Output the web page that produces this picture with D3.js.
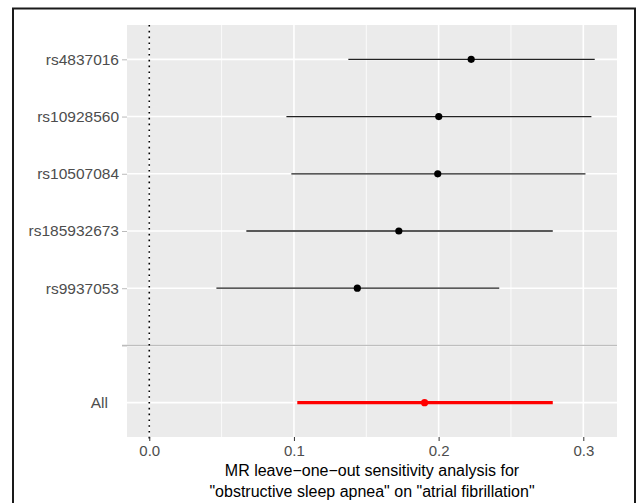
<!DOCTYPE html>
<html>
<head>
<meta charset="utf-8">
<script src="https://cdn.jsdelivr.net/npm/d3@7"></script>
<style>
  html, body { margin: 0; padding: 0; background: #fff; }
  svg { display: block; font-family: "Liberation Sans", Arial, sans-serif; }
</style>
</head>
<body>
<div id="chart"></div>
<script>
// Leave-one-out MR estimates (beta with 95% CI) per SNP, plus the pooled "All" row.
// The empty level "" separates the individual SNPs from the pooled estimate.
const snps  = ["rs4837016", "rs10928560", "rs10507084", "rs185932673", "rs9937053", "", "All"];
const beta  = [0.2225, 0.2001, 0.1994, 0.1725, 0.1438, null, 0.1903];
const lower = [0.1376, 0.0948, 0.0982, 0.0671, 0.0464, null, 0.1023];
const upper = [0.3079, 0.3056, 0.3015, 0.2789, 0.2419, null, 0.2789];
const xTicks = [0.0, 0.1, 0.2, 0.3];
const xMinor = [0.05, 0.15, 0.25];
const titleLines = [
  "MR leave\u2212one\u2212out sensitivity analysis for",
  "\"obstructive sleep apnea\" on \"atrial fibrillation\""
];

const W = 637, H = 503;
const panel = { left: 127, top: 25, right: 617, bottom: 437 };

const rows = snps.map((s, i) => ({ snp: s, b: beta[i], lo: lower[i], hi: upper[i] }))
                 .filter(d => d.b !== null);

const svg = d3.select("#chart").append("svg")
  .attr("width", W).attr("height", H);

// outer frame
svg.append("rect")
  .attr("x", 13).attr("y", 8.5)
  .attr("width", 622).attr("height", 600)
  .attr("fill", "none").attr("stroke", "#1a1a1a").attr("stroke-width", 2);

// x range covers 0 and every CI, padded by 5% on each side
const lo0 = Math.min(0, d3.min(lower.filter(v => v !== null)));
const hi0 = Math.max(0, d3.max(upper.filter(v => v !== null)));
const padX = (hi0 - lo0) * 0.05;
const x = d3.scaleLinear()
  .domain([lo0 - padX, hi0 + padX])
  .range([panel.left, panel.right]);

const y = d3.scalePoint()
  .domain(snps)
  .range([panel.top, panel.bottom])
  .padding(0.6);

// panel background
svg.append("rect")
  .attr("x", panel.left).attr("y", panel.top)
  .attr("width", panel.right - panel.left)
  .attr("height", panel.bottom - panel.top)
  .attr("fill", "#EBEBEB");

const grid = svg.append("g");
grid.selectAll("line.minor").data(xMinor).join("line")
  .attr("x1", d => x(d)).attr("x2", d => x(d))
  .attr("y1", panel.top).attr("y2", panel.bottom)
  .attr("stroke", "#fff").attr("stroke-width", 0.8);
grid.selectAll("line.major").data(xTicks).join("line")
  .attr("x1", d => x(d)).attr("x2", d => x(d))
  .attr("y1", panel.top).attr("y2", panel.bottom)
  .attr("stroke", "#fff").attr("stroke-width", 1.6);
grid.selectAll("line.row").data(snps).join("line")
  .attr("x1", panel.left).attr("x2", panel.right)
  .attr("y1", d => y(d)).attr("y2", d => y(d))
  .attr("stroke", "#fff").attr("stroke-width", 1.6);

// separator between SNP rows and the pooled estimate
svg.append("line")
  .attr("x1", panel.left - 5).attr("x2", panel.right)
  .attr("y1", y("")).attr("y2", y(""))
  .attr("stroke", "#bebebe").attr("stroke-width", 1.3);

// null-effect reference
svg.append("line")
  .attr("x1", x(0)).attr("x2", x(0))
  .attr("y1", panel.top).attr("y2", panel.bottom + 2)
  .attr("stroke", "#000").attr("stroke-width", 1.6)
  .attr("stroke-dasharray", "1.6,4.2");

// confidence intervals and estimates
const marks = svg.append("g");
marks.selectAll("line.ci").data(rows).join("line")
  .attr("x1", d => x(d.lo)).attr("x2", d => x(d.hi))
  .attr("y1", d => y(d.snp)).attr("y2", d => y(d.snp))
  .attr("stroke", d => d.snp === "All" ? "#ff0000" : "#222")
  .attr("stroke-width", d => d.snp === "All" ? 3.4 : 1.3);
marks.selectAll("circle").data(rows).join("circle")
  .attr("cx", d => x(d.b)).attr("cy", d => y(d.snp))
  .attr("r", 3.6)
  .attr("fill", d => d.snp === "All" ? "#ff0000" : "#000");

// x axis
const xAxis = d3.axisBottom(x).tickValues(xTicks).tickFormat(d3.format(".1f"))
  .tickSize(4).tickPadding(4);
const gx = svg.append("g").attr("transform", `translate(0,${panel.bottom})`).call(xAxis);
gx.select(".domain").remove();
gx.selectAll(".tick line").attr("stroke", "#333").attr("stroke-width", 1);
gx.selectAll(".tick text").attr("fill", "#4D4D4D")
  .style("font-size", "15px").attr("dy", "0.71em");

// y axis
const yAxis = d3.axisLeft(y).tickSize(5).tickPadding(3);
const gy = svg.append("g").attr("transform", `translate(${panel.left},0)`).call(yAxis);
gy.select(".domain").remove();
gy.selectAll(".tick line").attr("stroke", "#bbb").attr("stroke-width", 1)
  .attr("display", d => d === "All" ? "none" : null);
gy.selectAll(".tick text").attr("fill", "#4D4D4D")
  .style("font-size", "15.5px")
  .attr("x", d => d === "All" ? -19 : -8);

// axis title
svg.append("text")
  .attr("x", (panel.left + panel.right) / 2)
  .attr("text-anchor", "middle")
  .style("font-size", "16px").attr("fill", "#000")
  .selectAll("tspan").data(titleLines).join("tspan")
  .attr("x", (panel.left + panel.right) / 2)
  .attr("y", (d, i) => 476 + i * 21)
  .text(d => d);
</script>
</body>
</html>
